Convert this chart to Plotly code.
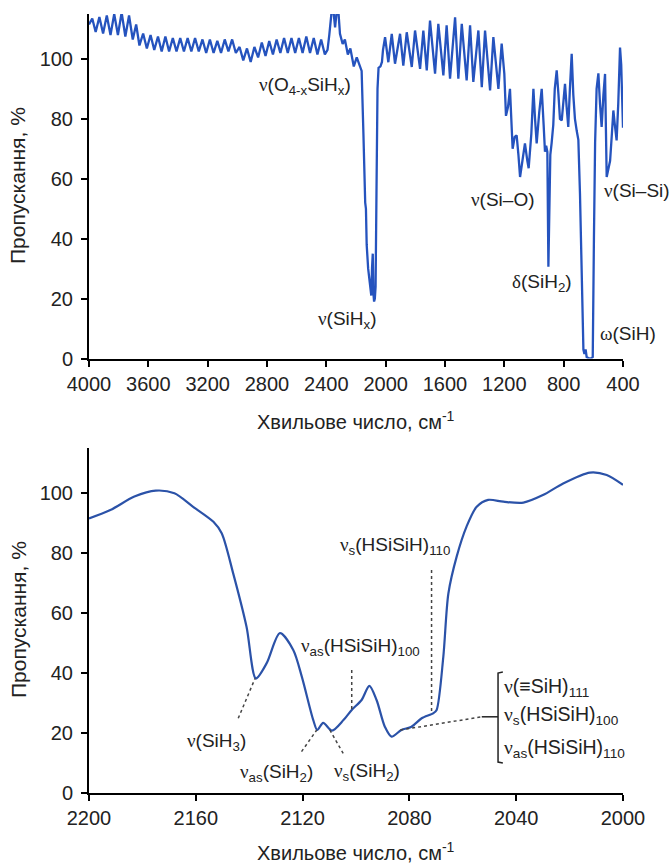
import plotly.graph_objects as go

# ---------------- data ----------------
top_wavenumber = [
    4000, 3978, 3955, 3930, 3905, 3880, 3855, 3830, 3805, 3780, 3755, 3730, 3705, 3682, 3660,
    3635, 3610, 3585, 3560, 3535, 3510, 3485, 3460, 3435, 3410, 3385, 3360, 3335, 3310, 3285,
    3260, 3235, 3210, 3185, 3160, 3135, 3110, 3085, 3060, 3035, 3010, 2985, 2960, 2935, 2910,
    2885, 2860, 2835, 2810, 2785, 2760, 2735, 2710, 2685, 2660, 2635, 2610, 2585, 2560, 2535,
    2510, 2485, 2460, 2435, 2410, 2392, 2380, 2364, 2352, 2341, 2330, 2319, 2308, 2290, 2275,
    2255, 2238, 2215, 2195, 2175, 2162, 2150, 2142, 2138, 2133, 2128, 2118, 2105, 2097, 2092,
    2087, 2083, 2078, 2073, 2068, 2062, 2055, 2048, 2035, 2025, 2018,
    2004, 1982, 1959, 1937, 1903, 1881, 1858, 1824, 1802, 1768, 1746, 1723, 1701, 1667, 1645,
    1611, 1589, 1566, 1532, 1510, 1487, 1454, 1431, 1409, 1375, 1352, 1330, 1296, 1274, 1240,
    1218, 1200, 1189, 1175, 1162, 1150, 1144, 1130, 1117, 1105, 1094, 1078, 1061, 1045, 1036,
    1018, 1004, 993, 982, 965, 948, 935, 926, 918, 910, 903, 898, 890, 881, 870, 860, 847,
    835, 825, 813, 800, 791, 780, 769, 758, 746, 735, 724, 712, 701, 690, 678, 667, 660, 652,
    645, 630, 615, 604, 596, 588, 578, 566, 555, 544, 532, 521, 510, 498, 487, 475, 465, 455,
    443, 432, 420, 412, 400,
]
top_transmittance = [
    111.5, 113.5, 109, 114, 108.5, 114.5, 108, 115, 108, 115.5, 107.5, 114.5, 106.5, 111.5, 104.5,
    108.5, 103.5, 108, 103, 107.5, 102.5, 107.5, 102.5, 107, 102.5, 107, 102.5, 107, 102.5, 107,
    102.5, 106.5, 102, 106.5, 102, 106, 102, 106.5, 102.5, 106.5, 102, 104, 99.5, 103.5, 99,
    104, 100.5, 105.5, 101, 106, 101.5, 106.5, 102, 107, 102, 107, 102, 107, 102, 107.5,
    102, 107, 101.5, 106.5, 101.5, 103, 108, 116, 116, 110.5, 116, 116, 108.4, 105, 106.5,
    101.5, 103.5, 97.5, 100.5, 97.5, 96, 75, 55, 52, 50, 38, 30, 24, 21, 30,
    35, 22, 19, 20, 24, 55, 90, 97, 97.5, 99, 103,
    107.3, 98.9, 108.4, 98.4, 108.4, 97.8, 108.9, 97.3, 109.5, 96.7, 109.5, 96.2, 112.8, 95.1, 111.7,
    94.5, 111.2, 93.4, 113.9, 93.4, 111.7, 92.8, 111.2, 92.3, 109.5, 90.6, 109.5, 89.5, 107.3, 90,
    105.1, 95, 81, 84, 90, 78, 70, 74, 74.5, 68, 60.6, 66, 71.8, 66, 63.5,
    75, 90, 80, 71.8, 82, 90, 78, 69, 71, 69, 30.6, 50, 68, 72, 78, 90, 96.2,
    88, 80, 79.5, 86, 91.7, 84, 77.3, 90, 101.7, 88, 80, 76, 73, 55, 25, 3, 1.5, 3,
    0.5, 0, 0, 0.5, 40, 72, 90, 95.2, 85, 77.3, 88, 95, 60.6, 63, 66, 75, 82.8, 78,
    72.8, 85, 103.8, 98, 77,
]

bottom_wavenumber = [
    2200, 2192, 2183, 2175, 2168, 2161, 2153.4, 2150.3, 2146, 2141, 2137.5, 2133.5, 2128.5,
    2123.5, 2120.3, 2116, 2114.5, 2112.3, 2109, 2104.7, 2101.6, 2097.9, 2095, 2092.3, 2089.2,
    2086.7, 2083, 2079.2, 2075.4, 2071, 2069.8, 2067.3, 2065.4, 2062.3, 2058.6, 2054.8, 2050.5,
    2044.8, 2037.3, 2030, 2022.4, 2012.4, 2006.1, 2000,
]
bottom_transmittance = [
    91.5, 94.3, 98.8, 100.8, 99.9, 95.4, 90.4, 86.6, 73.2, 55.4, 38.2, 43.2, 53.3,
    47.7, 38.8, 24.3, 21, 23.4, 20.8, 24.3, 27.7, 31, 35.7, 31, 22.1,
    18.8, 21, 22.1, 24.9, 26.6, 27.7, 45.4, 66.5, 78.8, 88.8, 95.4, 97.7,
    97.1, 96.8, 99.3, 103.2, 106.8, 106, 102.7,
]

top_xticks = [4000, 3600, 3200, 2800, 2400, 2000, 1600, 1200, 800, 400]
bottom_xticks = [2200, 2160, 2120, 2080, 2040, 2000]
y_ticks = [0, 20, 40, 60, 80, 100]

x_title = "Хвильове число, см<sup>-1</sup>"
y_title = "Пропускання, %"

NU = '<span style="font-family:Liberation Serif">ν</span>'
DELTA = '<span style="font-family:Liberation Serif">δ</span>'
OMEGA = '<span style="font-family:Liberation Serif">ω</span>'

# (text, x, y, xanchor)
top_labels = [
    (NU + "(O<sub>4-x</sub>SiH<sub>x</sub>)", 2545, 90.8, "center"),
    (NU + "(SiH<sub>x</sub>)", 2254, 12.8, "center"),
    (NU + "(Si–O)", 1209, 53.2, "center"),
    (DELTA + "(SiH<sub>2</sub>)", 946, 25.2, "center"),
    (OMEGA + "(SiH)", 570, 8.5, "left"),
    (NU + "(Si–Si)", 540, 56.2, "left"),
]
bottom_labels = [
    (NU + "(SiH<sub>3</sub>)", 2152.4, 17),
    (NU + "<sub>as</sub>(SiH<sub>2</sub>)", 2129.6, 6.7),
    (NU + "<sub>s</sub>(SiH<sub>2</sub>)", 2095.9, 7),
    (NU + "<sub>as</sub>(HSiSiH)<sub>100</sub>", 2098.5, 48.7),
    (NU + "<sub>s</sub>(HSiSiH)<sub>110</sub>", 2085.4, 82.3),
]
bracket_labels = [
    (NU + "(≡SiH)<sub>111</sub>", 2045.3, 35.3),
    (NU + "<sub>s</sub>(HSiSiH)<sub>100</sub>", 2045.3, 25.7),
    (NU + "<sub>as</sub>(HSiSiH)<sub>110</sub>", 2045.3, 15),
]
# dotted leader lines (x0, y0, x1, y1) in bottom-chart data coordinates
leaders = [
    (2144.1, 24.9, 2137.8, 38.2),
    (2120.4, 13.8, 2114.7, 21),
    (2109.8, 21, 2104.8, 13.2),
    (2101.6, 41, 2101.6, 27.7),
    (2071.7, 74.3, 2071.7, 26.7),
    (2083.4, 21, 2052.9, 25.4),
]

# ---------------- figure ----------------
W, H = 671, 866
FONT = "Liberation Sans, Arial, sans-serif"
TXT = "#222222"

fig = go.Figure()
fig.add_trace(go.Scatter(x=top_wavenumber, y=top_transmittance, mode="lines",
                         line=dict(color="#2553BE", width=2.3), xaxis="x", yaxis="y",
                         showlegend=False))
fig.add_trace(go.Scatter(x=bottom_wavenumber, y=bottom_transmittance, mode="lines",
                         line=dict(color="#2B52A8", width=2.2, shape="spline", smoothing=0.8),
                         xaxis="x2", yaxis="y2", showlegend=False))

axis_common = dict(showline=True, linecolor="black", linewidth=2, ticks="outside",
                   ticklen=6, tickwidth=2, tickcolor="black", showgrid=False,
                   zeroline=False, automargin=False,
                   tickfont=dict(family=FONT, size=20, color=TXT))

xdom = [89 / W, 623 / W]
fig.update_layout(
    width=W, height=H, margin=dict(l=0, r=0, t=0, b=0, autoexpand=False),
    paper_bgcolor="white", plot_bgcolor="white",
    xaxis=dict(domain=xdom, anchor="y", range=[4000, 400], tickvals=top_xticks, **axis_common),
    yaxis=dict(domain=[(H - 358.5) / H, (H - 14) / H], anchor="x", range=[0, 115],
               tickvals=y_ticks, ticklabelstandoff=4, **axis_common),
    xaxis2=dict(domain=xdom, anchor="y2", range=[2200, 2000], tickvals=bottom_xticks, **axis_common),
    yaxis2=dict(domain=[(H - 793) / H, (H - 448) / H], anchor="x2", range=[0, 115],
                tickvals=y_ticks, ticklabelstandoff=4, **axis_common),
)

ann = []
for text, x, y, xa in top_labels:
    ann.append(dict(text=text, x=x, y=y, xref="x", yref="y", showarrow=False,
                    xanchor=xa, yanchor="middle", font=dict(family=FONT, size=19, color=TXT)))
for text, x, y in bottom_labels:
    ann.append(dict(text=text, x=x, y=y, xref="x2", yref="y2", showarrow=False,
                    xanchor="center", yanchor="middle",
                    font=dict(family=FONT, size=19, color=TXT)))
for text, x, y in bracket_labels:
    ann.append(dict(text=text, x=x, y=y, xref="x2", yref="y2", showarrow=False,
                    xanchor="left", yanchor="middle", font=dict(family=FONT, size=19.5, color=TXT)))
# axis titles
for yy in (420, 851):
    ann.append(dict(text=x_title, x=356 / W, y=(H - yy) / H, xref="paper", yref="paper",
                    showarrow=False, xanchor="center", yanchor="middle",
                    font=dict(family=FONT, size=20, color=TXT)))
for yy in (186, 620):
    ann.append(dict(text=y_title, x=18 / W, y=(H - yy) / H, xref="paper", yref="paper",
                    showarrow=False, textangle=-90, xanchor="center", yanchor="middle",
                    font=dict(family=FONT, size=21, color=TXT)))
fig.update_layout(annotations=ann)

shapes = []
for x0, y0, x1, y1 in leaders:
    shapes.append(dict(type="line", x0=x0, y0=y0, x1=x1, y1=y1, xref="x2", yref="y2",
                       line=dict(color="#444444", width=1.5, dash="dot")))
# bracket
shapes.append(dict(type="line", x0=2052.9, y0=25.4, x1=2046.8, y1=25.4, xref="x2", yref="y2",
                   line=dict(color="#222222", width=1.5)))
shapes.append(dict(type="path", path="M 2045,40.3 L 2046.8,40.0 L 2046.8,10.3 L 2045,10.0",
                   xref="x2", yref="y2", line=dict(color="#222222", width=1.5)))
fig.update_layout(shapes=shapes)

fig.write_html("out.html")
